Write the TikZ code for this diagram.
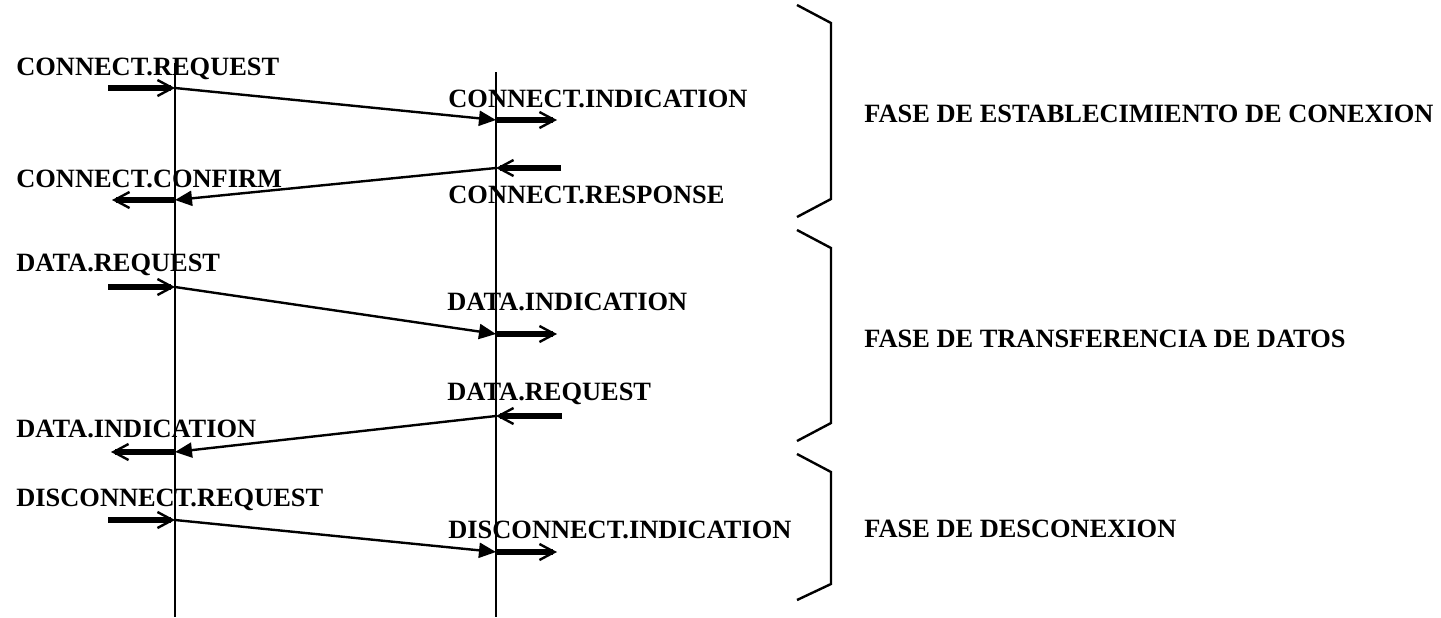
\documentclass[tikz,border=0pt]{standalone}
\usepackage{fontspec}
\setmainfont{Liberation Serif}
\usetikzlibrary{arrows.meta}

\tikzset{
  lifeline/.style={line width=1.3pt},
  stub/.style={line width=2.8pt,-{Straight Barb[line width=1.2pt,length=7.5pt,width=8pt]}},
  msg/.style={line width=1.2pt,-{Triangle[length=8.5pt,width=7.5pt]}},
  brace/.style={line width=1.2pt},
  prim/.style={anchor=base west,inner sep=0pt,font=\fontsize{13.2}{15}\selectfont\bfseries},
  phase/.style={anchor=base west,inner sep=0pt,font=\fontsize{13.2}{16}\selectfont\bfseries}
}

\begin{document}
\begin{tikzpicture}[x=0.5pt,y=-0.5pt]
  \useasboundingbox (0,0) rectangle (1441,617);

  % lifelines
  \coordinate (Ltop) at (175,63);  \coordinate (Lbot) at (175,617);
  \coordinate (Rtop) at (496,72);  \coordinate (Rbot) at (496,617);
  \draw[lifeline] (Ltop) -- (Lbot);
  \draw[lifeline] (Rtop) -- (Rbot);

  % connection
  \node[prim] (creq) at (16,75) {CONNECT.REQUEST};
  \node[prim] (cind) at (448,107) {CONNECT.INDICATION};
  \node[prim] (cconf) at (16,187) {CONNECT.CONFIRM};
  \node[prim] (cresp) at (448,203) {CONNECT.RESPONSE};
  \coordinate (creqS) at (108,88);  \coordinate (creqL) at (175,88);
  \coordinate (cindR) at (496,120); \coordinate (cindE) at (557,120);
  \coordinate (crespS) at (561,168); \coordinate (crespR) at (496,168);
  \coordinate (cconfL) at (175,200); \coordinate (cconfE) at (112,200);
  \draw[stub] (creqS) -- (creqL);
  \draw[msg] (creqL) -- (cindR);
  \draw[stub] (cindR) -- (cindE);
  \draw[stub] (crespS) -- (crespR);
  \draw[msg] (crespR) -- (cconfL);
  \draw[stub] (cconfL) -- (cconfE);

  % data transfer
  \node[prim] (dreq) at (16,271) {DATA.REQUEST};
  \node[prim] (dind) at (447,310) {DATA.INDICATION};
  \node[prim] (dreqB) at (447,400) {DATA.REQUEST};
  \node[prim] (dindB) at (16,437) {DATA.INDICATION};
  \coordinate (dreqS) at (108,287);  \coordinate (dreqL) at (175,287);
  \coordinate (dindR) at (496,334);  \coordinate (dindE) at (557,334);
  \coordinate (dreqBS) at (562,416); \coordinate (dreqBR) at (496,416);
  \coordinate (dindBL) at (175,452); \coordinate (dindBE) at (111,452);
  \draw[stub] (dreqS) -- (dreqL);
  \draw[msg] (dreqL) -- (dindR);
  \draw[stub] (dindR) -- (dindE);
  \draw[stub] (dreqBS) -- (dreqBR);
  \draw[msg] (dreqBR) -- (dindBL);
  \draw[stub] (dindBL) -- (dindBE);

  % disconnection
  \node[prim] (xreq) at (16,506) {DISCONNECT.REQUEST};
  \node[prim] (xind) at (448,538) {DISCONNECT.INDICATION};
  \coordinate (xreqS) at (108,520); \coordinate (xreqL) at (175,520);
  \coordinate (xindR) at (496,552); \coordinate (xindE) at (557,552);
  \draw[stub] (xreqS) -- (xreqL);
  \draw[msg] (xreqL) -- (xindR);
  \draw[stub] (xindR) -- (xindE);

  % phases
  \draw[brace] (797,5) -- (831,23) -- (831,199) -- (797,217);
  \draw[brace] (797,230) -- (831,248) -- (831,423) -- (797,441);
  \draw[brace] (797,454) -- (831,472) -- (831,584) -- (797,600);
  \node[phase] (fase1) at (864,122) {FASE DE ESTABLECIMIENTO DE CONEXION};
  \node[phase] (fase2) at (864,347) {FASE DE TRANSFERENCIA DE DATOS};
  \node[phase] (fase3) at (864,537) {FASE DE DESCONEXION};
\end{tikzpicture}
\end{document}
